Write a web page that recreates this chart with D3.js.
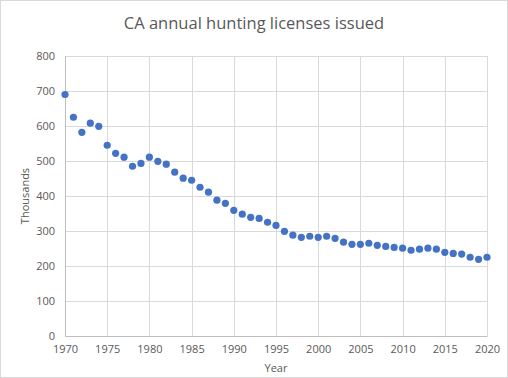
<!DOCTYPE html>
<html>
<head>
<meta charset="utf-8">
<script src="https://cdn.jsdelivr.net/npm/d3@7"></script>
<style>
  html, body { margin: 0; padding: 0; background: #fff; }
  svg { display: block; font-family: "Open Sans", "Liberation Sans", sans-serif; }
</style>
</head>
<body>
<div id="chart"></div>
<script>
// CA annual hunting licenses issued (thousands)
const YEARS = d3.range(1970, 2021);
const LICENSES = [
  690, 625, 582, 608, 599, 545, 522, 511, 485, 493,
  511, 499, 491, 468, 451, 445, 425, 411, 388, 379,
  359, 348, 339, 336, 325, 316, 299, 288, 282, 285,
  282, 285, 279, 268, 262, 262, 265, 259, 256, 253,
  251, 245, 248, 251, 248, 239, 236, 234, 225, 219,
  225
];
const X_TICKS = d3.range(1970, 2021, 5);
const Y_TICKS = d3.range(0, 801, 100);

const W = 508, H = 378;
const M = { top: 56, right: 21, bottom: 42, left: 65 };
const iW = W - M.left - M.right, iH = H - M.top - M.bottom;

const svg = d3.select("#chart").append("svg").attr("width", W).attr("height", H);

// chart border
svg.append("rect").attr("x", 0.5).attr("y", 0.5).attr("width", W - 1).attr("height", H - 1)
  .attr("fill", "#fff").attr("stroke", "#d9d9d9");

svg.append("text").attr("x", W / 2).attr("y", 29).attr("text-anchor", "middle")
  .attr("font-size", "16.5px").attr("fill", "#595959")
  .text("CA annual hunting licenses issued");

const g = svg.append("g").attr("transform", `translate(${M.left},${M.top})`);

const x = d3.scaleLinear().domain([1970, 2020]).range([0, iW]);
const y = d3.scaleLinear().domain([0, 800]).range([iH, 0]);

// grid
g.append("g").selectAll("line").data(Y_TICKS).join("line")
  .attr("x1", 0).attr("x2", iW).attr("y1", d => Math.round(y(d)) + 0.5).attr("y2", d => Math.round(y(d)) + 0.5)
  .attr("stroke", "#d9d9d9");
g.append("g").selectAll("line").data(X_TICKS.slice(1)).join("line")
  .attr("y1", 0).attr("y2", iH).attr("x1", d => Math.round(x(d)) + 0.5).attr("x2", d => Math.round(x(d)) + 0.5)
  .attr("stroke", "#d9d9d9");

// axes
const xAxis = g.append("g").attr("transform", `translate(0,${iH})`)
  .call(d3.axisBottom(x).tickValues(X_TICKS).tickFormat(d3.format("d")).tickSize(0).tickPadding(9));
const yAxis = g.append("g")
  .call(d3.axisLeft(y).tickValues(Y_TICKS).tickSize(0).tickPadding(10));
[xAxis, yAxis].forEach(a => {
  a.select(".domain").attr("stroke", "#bfbfbf");
  a.selectAll("text").attr("fill", "#595959").attr("font-size", "11px")
    .attr("font-family", "\"Open Sans\", \"Liberation Sans\", sans-serif");
});
yAxis.select(".domain").remove();
g.append("line").attr("x1", 0.5).attr("x2", 0.5).attr("y1", 0).attr("y2", iH).attr("stroke", "#bfbfbf");

// axis titles
svg.append("text").attr("x", M.left + iW / 2).attr("y", 372).attr("text-anchor", "middle")
  .attr("font-size", "11px").attr("fill", "#595959").text("Year");
svg.append("text").attr("transform", `translate(29,${M.top + iH / 2}) rotate(-90)`)
  .attr("text-anchor", "middle").attr("font-size", "11px").attr("fill", "#595959").text("Thousands");

// points
g.selectAll("circle.pt").data(YEARS).join("circle").attr("class", "pt")
  .attr("cx", (d, i) => x(d)).attr("cy", (d, i) => y(LICENSES[i]))
  .attr("r", 3.6).attr("fill", "#4472c4");
</script>
</body>
</html>
